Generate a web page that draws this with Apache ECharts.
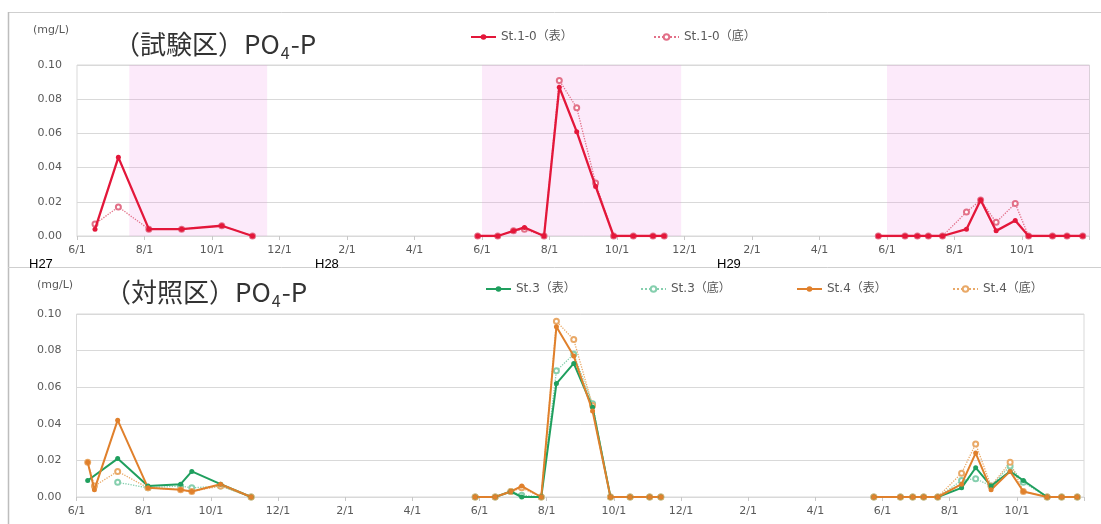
<!DOCTYPE html>
<html><head><meta charset="utf-8">
<script src="https://cdn.jsdelivr.net/npm/echarts@6/dist/echarts.min.js"></script>
<style>html,body{margin:0;padding:0;background:#fff}#c{width:1101px;height:524px}</style>
</head><body><div id="c"></div>
<script>
// ---- tick labels ----
const tickMonths = ['6/1', '8/1', '10/1', '12/1', '2/1', '4/1'];
const yearLabels = ['H27', 'H28', 'H29'];
// ---- sampling dates (year blocks) ----
const datesTest = [
  ['2015-06-17','2015-07-08','2015-08-05','2015-09-04','2015-10-10','2015-11-07'],
  ['2016-05-28','2016-06-15','2016-06-29','2016-07-09','2016-07-27','2016-08-10','2016-08-26','2016-09-12','2016-09-28','2016-10-16','2016-11-03','2016-11-13'],
  ['2017-05-24','2017-06-17','2017-06-28','2017-07-08','2017-07-21','2017-08-12','2017-08-25','2017-09-08','2017-09-25','2017-10-07','2017-10-29','2017-11-11','2017-11-25']
];
const datesCtrl = [
  ['2015-06-11','2015-06-17','2015-07-08','2015-08-05','2015-09-04','2015-09-14','2015-10-10','2015-11-07'],
  datesTest[1],
  datesTest[2]
];
// ---- shaded periods (test area) ----
const shadePeriods = [['2015-07-18','2015-11-20'], ['2016-06-01','2016-11-28'], ['2017-06-01','2017-12-01']];
// ---- series values (mg/L) ----
const st10Surface = [
  [0.004,0.046,0.004,0.004,0.006,0.000],
  [0,0,0.003,0.005,0,0.087,0.061,0.029,0,0,0,0],
  [0,0,0,0,0,0.004,0.021,0.003,0.009,0,0,0,0]
];
const st10Bottom = [
  [0.007,0.017,0.004,0.004,0.006,0.000],
  [0,0,0.003,0.004,0,0.091,0.075,0.031,0,0,0,0],
  [0,0,0,0,0,0.014,0.021,0.008,0.019,0,0,0,0]
];
const st3Surface = [
  [0.009,null,0.021,0.006,0.007,0.014,0.007,0.000],
  [0,0,0.003,0.000,0,0.062,0.073,0.049,0,0,0,0],
  [0,0,0,0,0,0.005,0.016,0.006,0.014,0.009,0,0,0]
];
const st3Bottom = [
  [null,null,0.008,0.005,0.006,0.005,0.006,0.000],
  [0,0,0.003,0.001,0,0.069,0.078,0.051,0,0,0,0],
  [0,0,0,0,0,0.009,0.010,0.006,0.017,0.008,0,0,0]
];
const st4Surface = [
  [0.019,0.004,0.042,0.005,0.004,0.003,0.007,0.000],
  [0,0,0.003,0.006,0,0.093,0.077,0.047,0,0,0,0],
  [0,0,0,0,0,0.007,0.024,0.004,0.014,0.003,0,0,0]
];
const st4Bottom = [
  [0.019,0.006,0.014,0.005,0.004,0.003,0.006,0.000],
  [0,0,0.003,0.005,0,0.096,0.086,0.050,0,0,0,0],
  [0,0,0,0,0,0.013,0.029,0.006,0.019,0.003,0,0,0]
];

function monthPos(s) {
  const p = s.split('-').map(Number);
  const dim = new Date(p[0], p[1], 0).getDate();
  return (p[0] - 2015) * 12 + (p[1] - 6) + (p[2] - 1) / dim;
}
function build(dateBlocks, valueBlocks) {
  const out = [];
  dateBlocks.forEach((ds, i) => {
    if (i > 0) out.push([monthPos(ds[0]) - 0.05, '-']);
    ds.forEach((d, j) => {
      const v = valueBlocks[i][j];
      if (v !== null) out.push([monthPos(d), v]);
    });
  });
  return out;
}

const FONT = "'DejaVu Sans', 'Noto Sans CJK JP', sans-serif";
const CJK = "'Noto Sans CJK JP', sans-serif";
const GRIDC = '#d9d9d9';
const LABC = '#595959';

function xAxis(gi) {
  return {
    type: 'value', gridIndex: gi, min: 0, max: 30, interval: 2,
    axisLine: { show: true, lineStyle: { color: GRIDC } },
    axisTick: { show: true, length: 4, lineStyle: { color: '#c8c8c8' } },
    splitLine: { show: false },
    axisLabel: {
      color: LABC, fontSize: 11, fontFamily: FONT, margin: 9,
      formatter: v => (v >= 30 ? '' : tickMonths[Math.round(v / 2) % 6])
    }
  };
}
function yAxis(gi) {
  return {
    type: 'value', gridIndex: gi, min: 0, max: 0.1, interval: 0.02,
    axisLine: { show: false }, axisTick: { show: false },
    splitLine: { lineStyle: { color: GRIDC, width: 1 } },
    axisLabel: { color: LABC, fontSize: 11, fontFamily: FONT, margin: 15, formatter: v => v.toFixed(2) }
  };
}
function solid(name, color, gi, data, w) {
  return {
    name, type: 'line', xAxisIndex: gi, yAxisIndex: gi, data,
    symbol: 'circle', symbolSize: 5, connectNulls: false,
    lineStyle: { color, width: w }, itemStyle: { color }, z: 3
  };
}
function dotted(name, color, gi, data) {
  return {
    name, type: 'line', xAxisIndex: gi, yAxisIndex: gi, data,
    symbol: 'emptyCircle', symbolSize: 5, connectNulls: false,
    lineStyle: { color, width: 1.3, type: 'dotted' },
    itemStyle: { color, borderColor: color, borderWidth: 1 }, z: 2
  };
}
function legend(name, left, top) {
  return {
    data: [name], left, top, itemWidth: 25, itemHeight: 7, padding: 0,
    textStyle: { color: LABC, fontSize: 12, fontFamily: FONT }
  };
}
const titleRich = {
  a: { fontSize: 26, fontFamily: CJK, fontWeight: 'normal', color: '#333', verticalAlign: 'bottom' },
  s: { fontSize: 16, fontFamily: CJK, fontWeight: 'normal', color: '#333', verticalAlign: 'bottom', padding: [0, 1, -4, 1] }
};

const RED = '#e3173a', PINK = '#e27088', GREEN = '#1f9f5e', LGREEN = '#86cfae', ORANGE = '#e0802c', LORANGE = '#e9a968';

const redSeries = solid('St.1-0（表）', RED, 0, build(datesTest, st10Surface), 2.3);
redSeries.markArea = {
  silent: true,
  itemStyle: { color: 'rgba(240,145,230,0.19)' },
  data: shadePeriods.map(p => [{ xAxis: monthPos(p[0]) }, { xAxis: Math.min(30, monthPos(p[1])) }])
};

const chart = echarts.init(document.getElementById('c'));
chart.setOption({
  animation: false,
  backgroundColor: '#fff',
  title: [
    { text: '{a|（試験区）PO}{s|4}{a|-P}', left: 114, top: 31, padding: 0,
      textStyle: { fontWeight: 'normal', rich: titleRich } },
    { text: '{a|（対照区）PO}{s|4}{a|-P}', left: 105, top: 279, padding: 0,
      textStyle: { fontWeight: 'normal', rich: titleRich } }
  ],
  legend: [
    legend('St.1-0（表）', 470, 31),
    legend('St.1-0（底）', 653, 31),
    legend('St.3（表）', 485, 283),
    legend('St.3（底）', 640, 283),
    legend('St.4（表）', 796, 283),
    legend('St.4（底）', 952, 283)
  ],
  grid: [
    { left: 77, top: 65, right: 11.5, bottom: 288, show: true, borderColor: GRIDC, borderWidth: 1 },
    { left: 76.5, top: 314, right: 17, bottom: 27, show: true, borderColor: GRIDC, borderWidth: 1 }
  ],
  xAxis: [xAxis(0), xAxis(1)],
  yAxis: [yAxis(0), yAxis(1)],
  graphic: [
    { type: 'line', shape: { x1: 8, y1: 12.5, x2: 1101, y2: 12.5 }, style: { stroke: '#cfcfcf', lineWidth: 1 }, silent: true },
    { type: 'line', shape: { x1: 8.5, y1: 12, x2: 8.5, y2: 524 }, style: { stroke: '#bdbdbd', lineWidth: 1.5 }, silent: true },
    { type: 'line', shape: { x1: 8, y1: 267.5, x2: 1101, y2: 267.5 }, style: { stroke: '#cfcfcf', lineWidth: 1 }, silent: true },
    { type: 'text', left: 33, top: 25, style: { text: '(mg/L)', font: "11px 'DejaVu Sans'", fill: LABC } },
    { type: 'text', left: 37, top: 280, style: { text: '(mg/L)', font: "11px 'DejaVu Sans'", fill: LABC } },
    { type: 'text', left: 29, top: 258, style: { text: yearLabels[0], font: "13px 'Liberation Sans'", fill: '#000' } },
    { type: 'text', left: 315, top: 258, style: { text: yearLabels[1], font: "13px 'Liberation Sans'", fill: '#000' } },
    { type: 'text', left: 717, top: 258, style: { text: yearLabels[2], font: "13px 'Liberation Sans'", fill: '#000' } }
  ],
  series: [
    dotted('St.1-0（底）', PINK, 0, build(datesTest, st10Bottom)),
    redSeries,
    dotted('St.3（底）', LGREEN, 1, build(datesCtrl, st3Bottom)),
    dotted('St.4（底）', LORANGE, 1, build(datesCtrl, st4Bottom)),
    solid('St.3（表）', GREEN, 1, build(datesCtrl, st3Surface), 2),
    solid('St.4（表）', ORANGE, 1, build(datesCtrl, st4Surface), 2)
  ]
});
</script></body></html>
